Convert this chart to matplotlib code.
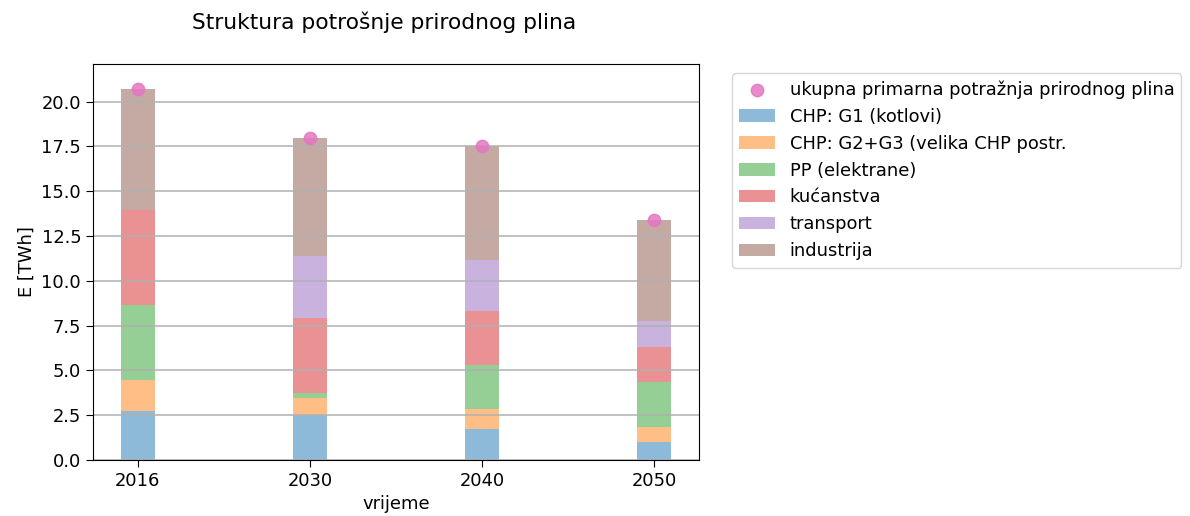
import matplotlib.pyplot as plt
import numpy as np

years = ["2016", "2030", "2040", "2050"]

# stacked shares, TWh
chp_g1 = [2.75, 2.52, 1.73, 1.02]
chp_g23 = [1.72, 0.93, 1.14, 0.81]
pp = [4.17, 0.31, 2.42, 2.54]
kucanstva = [5.29, 4.15, 3.05, 1.93]
transport = [0.0, 3.49, 2.83, 1.43]
industrija = [6.78, 6.57, 6.33, 5.68]
total = [20.71, 17.97, 17.50, 13.41]

series = [
    (chp_g1, "tab:blue", "CHP: G1 (kotlovi)"),
    (chp_g23, "tab:orange", "CHP: G2+G3 (velika CHP postr."),
    (pp, "tab:green", "PP (elektrane)"),
    (kucanstva, "tab:red", "kućanstva"),
    (transport, "tab:purple", "transport"),
    (industrija, "tab:brown", "industrija"),
]

FS = 12.9

fig = plt.figure(figsize=(11.9, 5.16), dpi=100)
ax = fig.add_axes([93 / 1190, 56 / 516, 606 / 1190, 396 / 516])

x = np.arange(len(years))
bottom = np.zeros(len(years))
bar_handles = []
for vals, color, label in series:
    b = ax.bar(x, vals, width=0.2, bottom=bottom, color=color, alpha=0.5, label=label)
    bar_handles.append(b)
    bottom += np.array(vals)

dots = ax.scatter(x, total, s=80, color="tab:pink", alpha=0.85,
                  label="ukupna primarna potražnja prirodnog plina", zorder=3)

ax.set_xticks(x)
ax.set_xticklabels(years)
ax.set_ylim(0, 22.1)
ax.set_yticks(np.arange(0, 20.1, 2.5))
ax.yaxis.grid(True, color="#b0b0b0", linewidth=1.1)
ax.tick_params(labelsize=FS, length=5)
ax.set_xlabel("vrijeme", fontsize=FS)
ax.set_ylabel("E [TWh]", fontsize=FS)
ax.set_title("Struktura potrošnje prirodnog plina", fontsize=15.7, pad=25, x=0.481)

handles = [dots] + bar_handles
labels = [h.get_label() for h in handles]
ax.legend(handles, labels, loc="upper left", bbox_to_anchor=(1.04, 1.0), fontsize=FS)

fig.savefig("out.png", dpi=100)
